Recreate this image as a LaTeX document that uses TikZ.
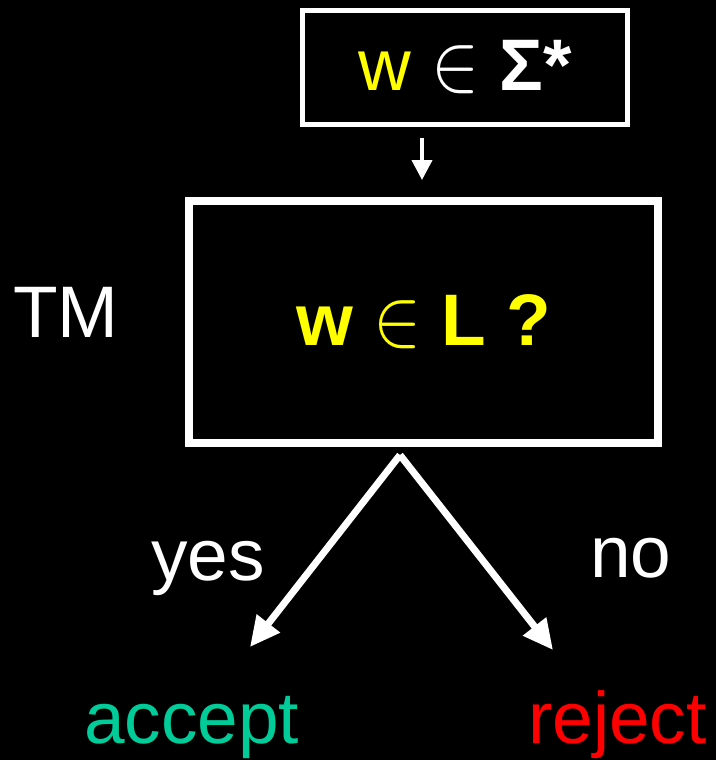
\documentclass[tikz,border=0pt]{standalone}
\usepackage{fontspec}
\setmainfont{Liberation Sans}
\usetikzlibrary{arrows.meta}
\definecolor{tmyellow}{RGB}{255,255,0}
\definecolor{tmgreen}{RGB}{0,204,153}
\definecolor{tmred}{RGB}{255,0,0}
\newcommand{\bigin}{\scalebox{7.2}[8.3]{\fontsize{10}{12}\selectfont$\in$}}
\begin{document}
\begin{tikzpicture}[x=1pt,y=-1pt,
  bigfont/.style={font=\fontsize{73}{80}\selectfont},
  lbl/.style={text=white,inner sep=0pt,anchor=base west,bigfont},
  arr/.style={draw=white,line width=7pt,-{Triangle[width=28pt,length=30pt]}},
  smallarr/.style={draw=white,line width=4pt,-{Triangle[width=20pt,length=20pt]}}]
\fill[black] (0,0) rectangle (716,760);
\useasboundingbox (0,0) rectangle (716,760);
% input box
\node[draw=white,line width=5pt,minimum width=324.5pt,minimum height=114pt,inner sep=0pt,
  bigfont,text=white] (inp) at (465,67.5)
  {\raisebox{-3pt}{\textcolor{tmyellow}{w} \bigin{} \textbf{Σ*}}};
% machine box
\node[draw=white,line width=8pt,minimum width=469pt,minimum height=242pt,inner sep=0pt,
  bigfont,text=tmyellow] (tm) at (423.5,322)
  {\textbf{w} \bigin{} \textbf{L ?}};
% small arrow
\coordinate (s1) at (422,138);
\coordinate (s2) at (422,180);
\draw[smallarr] (s1) -- (s2);
% branch arrows
\coordinate (split) at (400,455);
\coordinate (acc) at (250,647);
\coordinate (rej) at (553,650);
\draw[arr] (split) -- (acc);
\draw[arr] (split) -- (rej);
% labels
\node[lbl] (tmlabel) at (13,337) {TM};
\node[lbl] (yes) at (151,580) {yes};
\node[lbl] (no) at (590,577) {no};
\node[lbl,text=tmgreen] (accept) at (84,743) {accept};
\node[lbl,text=tmred] (reject) at (528,743) {reject};
\end{tikzpicture}
\end{document}
